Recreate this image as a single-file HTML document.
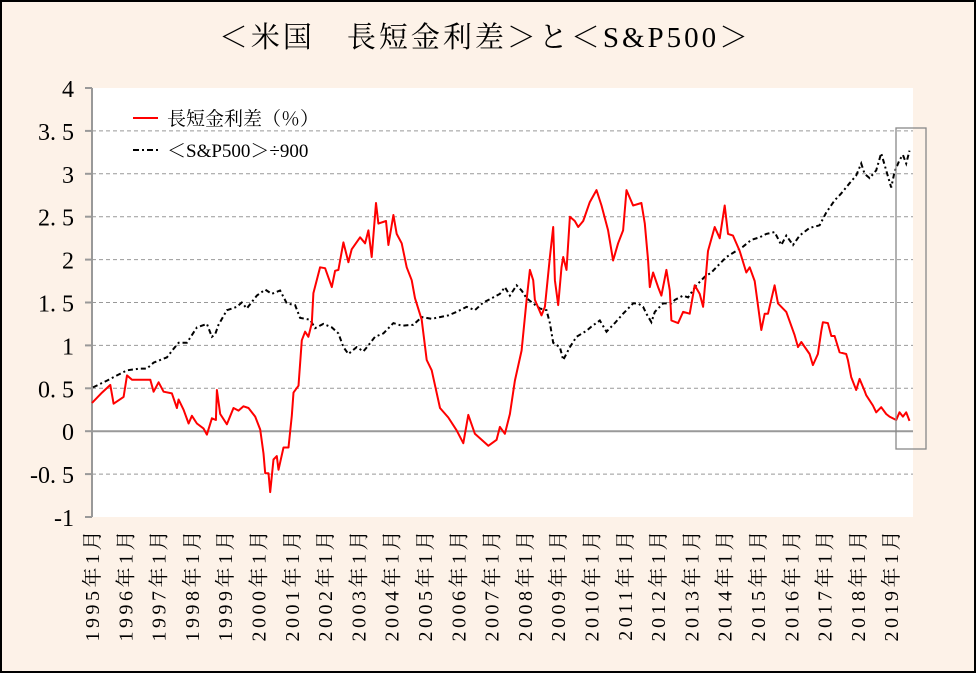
<!DOCTYPE html>
<html><head><meta charset="utf-8">
<style>
html,body{margin:0;padding:0;}
body{width:976px;height:673px;overflow:hidden;background:#fdf2e8;}
#frame{position:absolute;left:0;top:0;width:972px;height:669px;border:2px solid #000;background:#fdf2e8;}
svg{position:absolute;left:0;top:0;}
text{font-family:"Liberation Serif","Noto Serif CJK SC",serif;}
</style></head>
<body>
<div id="frame"></div>
<svg id="chart" width="976" height="673">
  <text x="485" y="47" text-anchor="middle" font-size="29" letter-spacing="3" fill="#000">＜米国　長短金利差＞と＜S&amp;P500＞</text>
  <rect x="92" y="88" width="821" height="429" fill="#fff"></rect>
  <g id="grid"></g>
  <g id="yaxis"></g>
  <g id="xaxis"></g>
  <g id="series"></g>
  <rect x="896" y="128" width="30" height="321" fill="none" stroke="#888" stroke-width="1.3"></rect>
  <g>
    <line x1="133" y1="118" x2="158" y2="118" stroke="#f00" stroke-width="2"></line>
    <text x="167" y="125" font-size="19">長短金利差（％）</text>
    <line x1="133" y1="150" x2="158" y2="150" stroke="#000" stroke-width="2" stroke-dasharray="6 3 2 3"></line>
    <text x="167" y="157" font-size="19">＜S&amp;P500＞÷900</text>
  </g>
</svg>
<script>
const yTicks = [4,3.5,3,2.5,2,1.5,1,0.5,0,-0.5,-1];
const yTickLabels = ["4","3. 5","3","2. 5","2","1. 5","1","0. 5","0","-0. 5","-1"];
const years = [1995,1996,1997,1998,1999,2000,2001,2002,2003,2004,2005,2006,2007,2008,2009,2010,2011,2012,2013,2014,2015,2016,2017,2018,2019];
const spreadT = [1995.0,1995.3,1995.55,1995.65,1995.95,1996.05,1996.2,1996.75,1996.85,1997.0,1997.15,1997.4,1997.55,1997.6,1997.75,1997.9,1998.0,1998.15,1998.35,1998.45,1998.6,1998.72,1998.75,1998.85,1999.05,1999.25,1999.4,1999.55,1999.7,1999.9,2000.05,2000.15,2000.2,2000.3,2000.35,2000.45,2000.55,2000.6,2000.75,2000.9,2001.0,2001.05,2001.2,2001.3,2001.4,2001.5,2001.6,2001.65,2001.85,2002.0,2002.2,2002.3,2002.4,2002.55,2002.7,2002.8,2003.05,2003.2,2003.3,2003.4,2003.53,2003.6,2003.83,2003.9,2004.05,2004.15,2004.3,2004.45,2004.6,2004.7,2004.9,2005.05,2005.2,2005.45,2005.7,2005.95,2006.15,2006.3,2006.5,2006.9,2007.15,2007.25,2007.4,2007.55,2007.7,2007.9,2008.05,2008.15,2008.25,2008.3,2008.5,2008.6,2008.75,2008.85,2008.9,2009.0,2009.1,2009.15,2009.25,2009.35,2009.5,2009.6,2009.75,2009.95,2010.15,2010.3,2010.5,2010.65,2010.8,2010.95,2011.05,2011.25,2011.5,2011.6,2011.7,2011.75,2011.85,2012.0,2012.1,2012.25,2012.35,2012.4,2012.6,2012.75,2012.95,2013.1,2013.25,2013.35,2013.45,2013.5,2013.7,2013.85,2014.0,2014.1,2014.25,2014.45,2014.65,2014.75,2014.9,2015.1,2015.2,2015.3,2015.5,2015.6,2015.85,2016.1,2016.2,2016.3,2016.55,2016.65,2016.8,2016.9,2016.95,2017.1,2017.2,2017.3,2017.45,2017.65,2017.7,2017.8,2017.95,2018.05,2018.2,2018.25,2018.45,2018.55,2018.7,2018.85,2018.95,2019.15,2019.25,2019.35,2019.45,2019.55,2019.62];
const spreadV = [0.33,0.45,0.54,0.32,0.4,0.65,0.6,0.6,0.46,0.57,0.46,0.44,0.27,0.37,0.25,0.09,0.18,0.09,0.03,-0.04,0.15,0.13,0.48,0.2,0.08,0.27,0.24,0.29,0.27,0.17,0.02,-0.26,-0.49,-0.49,-0.71,-0.33,-0.29,-0.45,-0.19,-0.19,0.18,0.45,0.53,1.06,1.16,1.1,1.26,1.61,1.91,1.9,1.68,1.87,1.88,2.2,1.97,2.12,2.26,2.19,2.34,2.03,2.66,2.42,2.45,2.17,2.52,2.3,2.19,1.91,1.76,1.55,1.3,0.83,0.71,0.27,0.16,0.01,-0.14,0.19,-0.03,-0.17,-0.1,0.05,-0.03,0.2,0.59,0.94,1.53,1.88,1.76,1.53,1.35,1.45,2.03,2.38,1.76,1.47,1.91,2.03,1.88,2.5,2.45,2.38,2.45,2.67,2.81,2.63,2.34,1.99,2.19,2.34,2.81,2.63,2.66,2.42,1.99,1.68,1.85,1.68,1.58,1.88,1.64,1.29,1.26,1.39,1.37,1.7,1.6,1.45,1.88,2.1,2.38,2.25,2.63,2.3,2.28,2.1,1.85,1.91,1.75,1.18,1.37,1.37,1.7,1.49,1.39,1.12,0.98,1.04,0.9,0.77,0.9,1.17,1.27,1.26,1.11,1.11,0.92,0.9,0.83,0.63,0.48,0.61,0.47,0.42,0.3,0.22,0.28,0.2,0.17,0.13,0.22,0.17,0.22,0.12];
const spT = [1995.03,1995.45,1995.75,1996.05,1996.45,1996.65,1996.85,1997.25,1997.45,1997.6,1997.85,1998.15,1998.45,1998.6,1998.7,1998.8,1999.05,1999.35,1999.5,1999.65,1999.95,2000.2,2000.4,2000.65,2000.85,2001.1,2001.25,2001.55,2001.7,2001.95,2002.2,2002.4,2002.55,2002.7,2002.95,2003.15,2003.3,2003.5,2003.75,2004.05,2004.3,2004.65,2004.9,2005.2,2005.45,2005.7,2005.95,2006.25,2006.5,2006.75,2007.05,2007.25,2007.4,2007.55,2007.75,2007.9,2008.05,2008.25,2008.45,2008.65,2008.75,2008.85,2009.05,2009.15,2009.35,2009.55,2009.85,2010.0,2010.25,2010.45,2010.7,2010.95,2011.25,2011.4,2011.55,2011.65,2011.8,2011.9,2012.15,2012.4,2012.5,2012.75,2012.9,2013.15,2013.4,2013.6,2013.8,2014.05,2014.3,2014.55,2014.8,2015.05,2015.25,2015.5,2015.7,2015.85,2016.05,2016.25,2016.55,2016.85,2017.05,2017.3,2017.5,2017.75,2017.95,2018.1,2018.2,2018.35,2018.55,2018.7,2018.85,2019.0,2019.1,2019.25,2019.35,2019.45,2019.55];
const spV = [0.51,0.59,0.65,0.71,0.73,0.73,0.8,0.86,0.96,1.03,1.03,1.21,1.25,1.1,1.13,1.24,1.41,1.45,1.5,1.43,1.58,1.65,1.6,1.64,1.49,1.47,1.32,1.3,1.2,1.25,1.21,1.14,0.98,0.9,0.98,0.93,1.0,1.1,1.14,1.26,1.23,1.24,1.33,1.31,1.33,1.35,1.39,1.45,1.41,1.5,1.56,1.6,1.68,1.58,1.7,1.64,1.55,1.49,1.43,1.41,1.26,1.03,0.98,0.83,0.98,1.1,1.17,1.22,1.29,1.16,1.26,1.37,1.49,1.49,1.45,1.37,1.27,1.39,1.49,1.49,1.53,1.58,1.56,1.7,1.8,1.85,1.93,2.03,2.09,2.15,2.23,2.26,2.3,2.32,2.17,2.28,2.17,2.28,2.37,2.4,2.55,2.69,2.77,2.89,2.98,3.12,3.0,2.95,3.04,3.24,3.04,2.84,3.02,3.16,3.22,3.12,3.27];

const NS='http://www.w3.org/2000/svg';
const X0=92, X1=913, Y4=88, Ym1=517;
function xs(t){return X0+(t-1995)*33.3;}
function ys(v){return Y4+(4-v)*(Ym1-Y4)/5;}
function mk(tag,attrs,parent){const e=document.createElementNS(NS,tag);for(const k in attrs)e.setAttribute(k,attrs[k]);parent.appendChild(e);return e;}
const grid=document.getElementById('grid'), ya=document.getElementById('yaxis'), xa=document.getElementById('xaxis'), ser=document.getElementById('series');
yTicks.forEach((v,i)=>{
  const y=ys(v);
  if(v!==0 && v!==4 && v!==-1){
    const g=mk('line',{x1:X0,x2:X1,y1:y,y2:y,stroke:'#999','stroke-width':1,'stroke-dasharray':'4 3'},grid);
    
    
  }
  const tk=mk('line',{x1:X0-7,x2:X0,y1:y,y2:y,stroke:'#999','stroke-width':2},ya);
  
  
  const t=mk('text',{x:74,y:y+9,'text-anchor':'end','font-size':24,fill:'#000'},ya);
  t.textContent=yTickLabels[i];
  
  
});
const zl=mk('line',{x1:X0,x2:X1,y1:ys(0),y2:ys(0),stroke:'#999','stroke-width':2},grid);


const ax=mk('line',{x1:X0,x2:X0,y1:Y4,y2:Ym1,stroke:'#999','stroke-width':2},ya);


years.forEach(yr=>{
  const x=xs(yr);
  const t=mk('text',{x:0,y:0,'font-size':20,'letter-spacing':3.5,fill:'#000','text-anchor':'end',transform:`translate(${x+7},527) rotate(-90)`},xa);
  t.textContent=yr+'年1月';
  
  
});
function pts(T,V){return T.map((t,i)=>xs(t).toFixed(1)+','+ys(V[i]).toFixed(1)).join(' ');}
const sp=mk('polyline',{points:pts(spT,spV),fill:'none',stroke:'#000','stroke-width':2,'stroke-dasharray':'5 3 2 3'},ser);


const rl=mk('polyline',{points:pts(spreadT,spreadV),fill:'none',stroke:'#f00','stroke-width':2,'stroke-linejoin':'round'},ser);


</script>
</body></html>
